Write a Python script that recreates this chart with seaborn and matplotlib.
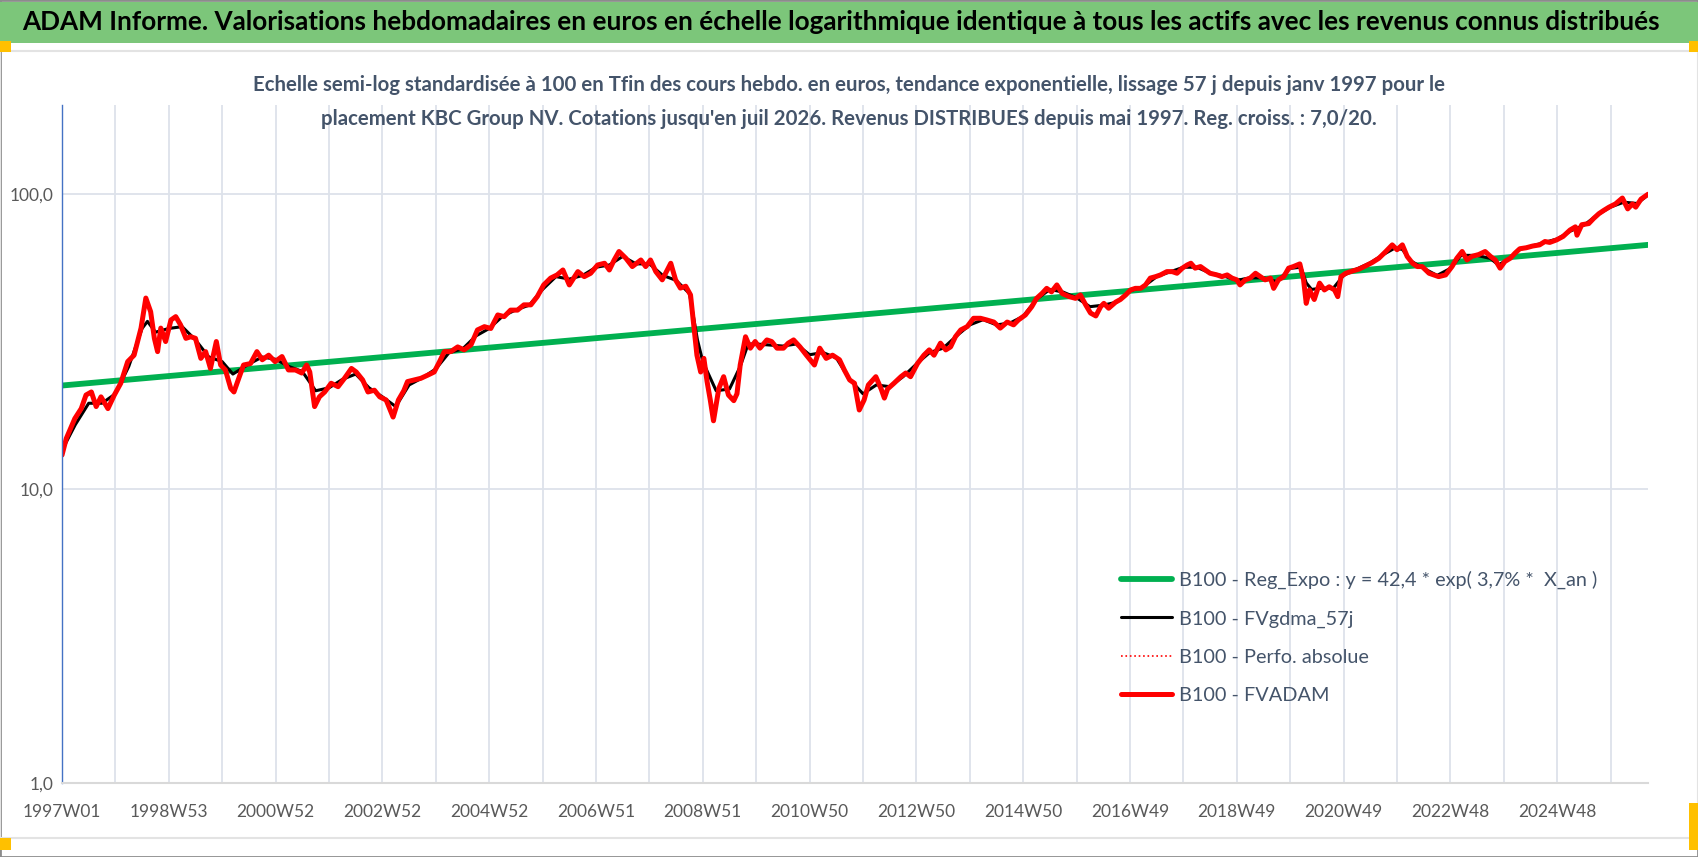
import seaborn as sns
from matplotlib import pyplot as plt
from matplotlib.patches import Rectangle

# B100 - FVADAM : weekly valuation (decimal year, value)
fvadam_years = [
    1997.00, 1997.08, 1997.16, 1997.24, 1997.36, 1997.45, 1997.55, 1997.64, 1997.73, 1997.86,
    1997.98, 1998.10, 1998.23, 1998.35, 1998.48, 1998.57, 1998.66, 1998.73, 1998.79, 1998.85,
    1998.94, 1999.04, 1999.13, 1999.22, 1999.32, 1999.41, 1999.50, 1999.60, 1999.69, 1999.78,
    1999.89, 1999.97, 2000.06, 2000.16, 2000.22, 2000.31, 2000.40, 2000.53, 2000.65, 2000.75,
    2000.87, 2000.99, 2001.12, 2001.24, 2001.37, 2001.49, 2001.58, 2001.64, 2001.73, 2001.82,
    2001.92, 2002.04, 2002.17, 2002.29, 2002.42, 2002.51, 2002.63, 2002.73, 2002.85, 2002.95,
    2003.07, 2003.20, 2003.30, 2003.40, 2003.47, 2003.60, 2003.72, 2003.85, 2003.97, 2004.07,
    2004.16, 2004.28, 2004.41, 2004.53, 2004.66, 2004.78, 2004.91, 2005.03, 2005.16, 2005.28,
    2005.40, 2005.53, 2005.65, 2005.78, 2005.90, 2006.02, 2006.15, 2006.27, 2006.38, 2006.50,
    2006.66, 2006.78, 2006.90, 2007.03, 2007.16, 2007.25, 2007.34, 2007.43, 2007.56, 2007.68,
    2007.84, 2007.93, 2008.02, 2008.12, 2008.24, 2008.40, 2008.49, 2008.58, 2008.68, 2008.77,
    2008.83, 2008.89, 2008.96, 2009.02, 2009.08, 2009.14, 2009.20, 2009.30, 2009.39, 2009.48,
    2009.58, 2009.64, 2009.70, 2009.80, 2009.89, 2009.98, 2010.07, 2010.20, 2010.29, 2010.39,
    2010.51, 2010.60, 2010.70, 2010.82, 2010.94, 2011.09, 2011.19, 2011.31, 2011.43, 2011.56,
    2011.65, 2011.75, 2011.84, 2011.93, 2012.02, 2012.10, 2012.24, 2012.34, 2012.40, 2012.46,
    2012.58, 2012.71, 2012.80, 2012.89, 2013.02, 2013.14, 2013.24, 2013.33, 2013.45, 2013.55,
    2013.64, 2013.73, 2013.83, 2013.95, 2014.07, 2014.20, 2014.32, 2014.45, 2014.57, 2014.70,
    2014.82, 2014.91, 2015.04, 2015.16, 2015.25, 2015.35, 2015.44, 2015.53, 2015.63, 2015.73,
    2015.86, 2015.98, 2016.07, 2016.17, 2016.26, 2016.36, 2016.45, 2016.51, 2016.60, 2016.73,
    2016.82, 2016.92, 2017.01, 2017.10, 2017.20, 2017.29, 2017.38, 2017.48, 2017.57, 2017.69,
    2017.79, 2017.88, 2017.98, 2018.07, 2018.14, 2018.22, 2018.32, 2018.41, 2018.50, 2018.63,
    2018.72, 2018.82, 2018.91, 2019.00, 2019.06, 2019.16, 2019.25, 2019.35, 2019.44, 2019.53,
    2019.63, 2019.69, 2019.78, 2019.88, 2019.97, 2020.06, 2020.18, 2020.25, 2020.30, 2020.36,
    2020.45, 2020.55, 2020.64, 2020.73, 2020.83, 2020.89, 2020.95, 2021.04, 2021.17, 2021.29,
    2021.42, 2021.54, 2021.66, 2021.79, 2021.91, 2022.00, 2022.10, 2022.19, 2022.29, 2022.38,
    2022.47, 2022.60, 2022.69, 2022.78, 2022.91, 2023.03, 2023.12, 2023.22, 2023.31, 2023.40,
    2023.53, 2023.65, 2023.75, 2023.84, 2023.93, 2024.02, 2024.12, 2024.21, 2024.30, 2024.42,
    2024.54, 2024.67, 2024.77, 2024.86, 2024.99, 2025.11, 2025.24, 2025.34, 2025.37, 2025.46,
    2025.59, 2025.68, 2025.78, 2025.87, 2025.97, 2026.09, 2026.22, 2026.32, 2026.41, 2026.47,
    2026.57, 2026.70,
]
fvadam_values = [
    13.0, 14.8, 16.0, 17.3, 18.7, 20.8, 21.3, 19.0, 20.5, 18.7,
    20.8, 22.8, 27.0, 28.4, 35.1, 44.4, 39.9, 32.4, 29.2, 35.1,
    31.6, 37.4, 38.4, 36.0, 32.4, 32.8, 32.4, 27.7, 29.2, 25.6,
    31.6, 26.3, 25.3, 21.9, 21.3, 23.7, 26.3, 26.6, 29.2, 27.4,
    28.4, 27.0, 28.1, 25.3, 25.3, 24.7, 26.3, 24.9, 19.0, 20.5,
    21.3, 22.8, 22.2, 23.7, 25.6, 24.9, 23.4, 21.3, 21.6, 20.5,
    20.0, 17.5, 20.0, 21.5, 23.1, 23.4, 23.7, 24.3, 24.9, 27.0,
    29.2, 29.2, 30.3, 29.6, 30.8, 34.6, 35.5, 35.0, 38.9, 38.4,
    40.4, 40.4, 42.1, 42.1, 44.9, 49.2, 51.9, 53.2, 55.3, 49.2,
    54.6, 52.5, 53.9, 57.5, 58.3, 55.3, 59.8, 63.9, 60.6, 56.8,
    59.8, 56.8, 59.8, 54.6, 51.2, 58.3, 51.2, 48.0, 48.7, 45.5,
    36.0, 28.4, 24.9, 27.7, 23.1, 20.0, 17.0, 21.9, 24.0, 20.8,
    19.9, 21.0, 26.3, 32.8, 30.0, 31.6, 30.0, 32.0, 31.6, 30.0,
    30.0, 31.2, 32.0, 30.3, 28.4, 26.3, 30.0, 27.7, 28.4, 27.4,
    25.3, 23.4, 22.8, 18.5, 20.0, 22.5, 24.0, 21.8, 20.3, 21.8,
    22.8, 24.0, 24.7, 24.0, 26.6, 28.4, 29.6, 28.4, 31.2, 29.6,
    30.3, 32.8, 34.6, 35.5, 37.9, 37.9, 37.4, 36.8, 35.1, 36.8,
    36.0, 37.4, 38.9, 41.5, 44.3, 46.0, 47.9, 46.6, 49.2, 46.0,
    44.9, 44.3, 45.5, 42.1, 39.5, 38.6, 41.5, 42.6, 41.0, 43.0,
    43.9, 45.5, 47.3, 47.9, 47.9, 49.2, 51.9, 52.5, 53.2, 54.6,
    54.6, 53.9, 56.1, 57.5, 58.3, 56.1, 56.8, 55.3, 53.9, 53.2,
    52.5, 53.2, 51.9, 51.2, 49.2, 51.2, 51.9, 53.9, 52.5, 51.2,
    51.9, 47.9, 51.2, 52.5, 56.1, 56.8, 58.0, 51.2, 42.6, 47.3,
    43.9, 49.9, 47.3, 48.5, 47.3, 44.9, 52.5, 53.9, 54.9, 55.7,
    57.2, 58.7, 60.6, 63.9, 67.3, 64.8, 67.3, 61.5, 58.3, 56.8,
    56.8, 53.9, 53.2, 52.5, 53.2, 56.8, 60.6, 63.9, 59.8, 61.5,
    62.4, 63.9, 61.5, 59.8, 56.1, 59.1, 60.6, 63.1, 65.3, 65.8,
    66.7, 67.3, 69.1, 68.6, 70.0, 71.9, 75.6, 77.5, 72.6, 78.8,
    79.5, 82.7, 85.9, 88.1, 90.4, 92.7, 97.1, 89.2, 92.7, 90.4,
    96.3, 100.0,
]

# B100 - FVgdma_57j : smoothed curve
gdma_years = [
    1997.00, 1997.25, 1997.50, 1997.75, 1998.00, 1998.25, 1998.50, 1998.60, 1998.75, 1999.00,
    1999.25, 1999.50, 1999.75, 2000.00, 2000.20, 2000.50, 2000.75, 2001.00, 2001.25, 2001.50,
    2001.75, 2002.00, 2002.25, 2002.50, 2002.75, 2003.00, 2003.25, 2003.50, 2003.75, 2004.00,
    2004.25, 2004.50, 2004.75, 2005.00, 2005.25, 2005.50, 2005.75, 2006.00, 2006.25, 2006.50,
    2006.75, 2007.00, 2007.25, 2007.50, 2007.75, 2008.00, 2008.25, 2008.50, 2008.75, 2008.90,
    2009.00, 2009.25, 2009.50, 2009.70, 2009.85, 2010.00, 2010.50, 2010.75, 2011.00, 2011.25,
    2011.50, 2011.75, 2012.00, 2012.25, 2012.50, 2012.75, 2013.00, 2013.25, 2013.50, 2013.75,
    2014.00, 2014.25, 2014.50, 2014.75, 2015.00, 2015.25, 2015.50, 2015.75, 2016.00, 2016.25,
    2016.50, 2016.75, 2017.00, 2017.25, 2017.50, 2017.75, 2018.00, 2018.25, 2018.50, 2018.75,
    2019.00, 2019.25, 2019.50, 2019.75, 2020.00, 2020.20, 2020.30, 2020.40, 2020.60, 2020.80,
    2021.00, 2021.25, 2021.50, 2021.75, 2021.95, 2022.10, 2022.25, 2022.50, 2022.75, 2023.00,
    2023.20, 2023.50, 2023.75, 2023.90, 2024.10, 2024.30, 2024.50, 2024.75, 2025.00, 2025.25,
    2025.50, 2025.75, 2026.00, 2026.25, 2026.50, 2026.70,
]
gdma_values = [
    13.5, 16.5, 19.5, 19.5, 21.0, 26.0, 35.0, 37.0, 34.0, 35.0,
    35.5, 32.0, 28.0, 27.0, 24.5, 26.5, 28.0, 27.5, 26.0, 25.0,
    21.5, 22.0, 23.5, 24.5, 22.0, 20.5, 19.0, 22.5, 23.8, 25.5,
    29.0, 29.8, 33.0, 35.0, 38.5, 40.5, 42.0, 47.5, 52.5, 51.5,
    53.0, 56.5, 57.5, 61.5, 58.0, 58.0, 53.0, 51.0, 46.0, 32.0,
    27.0, 21.5, 21.8, 26.0, 31.0, 31.0, 30.5, 31.0, 28.5, 29.0,
    27.8, 23.5, 21.0, 22.5, 22.2, 24.0, 26.5, 29.0, 30.0, 33.0,
    36.0, 37.5, 36.0, 36.5, 38.5, 44.0, 47.5, 46.5, 44.5, 41.5,
    42.0, 43.0, 47.0, 48.5, 52.5, 54.5, 56.5, 56.5, 54.0, 52.8,
    51.0, 52.0, 52.0, 50.5, 56.0, 56.5, 50.0, 47.5, 48.0, 47.8,
    53.0, 55.8, 58.5, 62.5, 65.5, 65.0, 59.5, 56.0, 53.0, 56.0,
    62.0, 62.0, 60.5, 57.5, 60.5, 65.0, 66.5, 68.5, 70.5, 75.0,
    78.5, 85.0, 90.5, 94.0, 93.0, 99.5,
]

# B100 - Reg_Expo : straight line on the log scale, endpoints
reg_years = [1997.0, 2026.7]
reg_values = [22.4, 67.3]

x_tick_labels = ["1997W01", "1998W53", "2000W52", "2002W52", "2004W52", "2006W51",
                 "2008W51", "2010W50", "2012W50", "2014W50", "2016W49", "2018W49",
                 "2020W49", "2022W48", "2024W48"]
y_ticks = [1, 10, 100]
y_tick_labels = ["1,0", "10,0", "100,0"]

title = ("ADAM Informe. Valorisations hebdomadaires en euros en échelle logarithmique "
         "identique à tous les actifs avec les revenus connus distribués")
subtitle = ("Echelle semi-log standardisée à 100 en Tfin des cours hebdo. en euros, tendance "
            "exponentielle, lissage 57 j depuis janv 1997 pour le\nplacement KBC Group NV. "
            "Cotations jusqu'en juil 2026. Revenus DISTRIBUES depuis mai 1997. Reg. croiss. : 7,0/20.")


def to_weeks(years):
    # one grid step of the category axis = 52 weekly points
    return [(y - 1997.0) * 52 for y in years]


sns.set_style("white")
plt.rcParams["font.family"] = ["Lato", "DejaVu Sans"]

W, H = 1698, 857
fig = plt.figure(figsize=(W / 100, H / 100), dpi=100)
ax = fig.add_axes([62 / W, 1 - 783 / H, (1648 - 62) / W, (783 - 105) / H])

sns.lineplot(x=to_weeks(reg_years), y=reg_values, ax=ax, color="#00B050", lw=4.2,
             label="B100 - Reg_Expo : y = 42,4 * exp( 3,7% *  X_an )", sort=False)
sns.lineplot(x=to_weeks(gdma_years), y=gdma_values, ax=ax, color="black", lw=2.2,
             label="B100 - FVgdma_57j", sort=False)
sns.lineplot(x=to_weeks(fvadam_years), y=fvadam_values, ax=ax, color="red", lw=1.2,
             linestyle=":", label="B100 - Perfo. absolue", sort=False)
sns.lineplot(x=to_weeks(fvadam_years), y=fvadam_values, ax=ax, color="#FF0000", lw=3.6,
             label="B100 - FVADAM", sort=False)

ax.set_yscale("log")
ax.set_ylim(1, 201)
ax.set_yticks(y_ticks)
ax.set_yticklabels(y_tick_labels)
ax.minorticks_off()
ax.set_xlim(0, max(to_weeks(fvadam_years)))
grid_pos = list(range(0, 1520, 52))
ax.set_xticks(grid_pos)
ax.set_xticklabels([x_tick_labels[i // 2] if i % 2 == 0 else "" for i in range(len(grid_pos))])
ax.tick_params(axis="x", length=7, color="#D9D9D9", labelsize=12.5, labelcolor="#595959", pad=8)
ax.tick_params(axis="y", length=0, labelsize=12.5, labelcolor="#595959", pad=6)
ax.grid(True, axis="both", color="#DDE2EA", lw=1.3)
ax.set_axisbelow(True)
ax.set_xlabel("")
ax.set_ylabel("")
for side in ["top", "right"]:
    ax.spines[side].set_visible(False)
ax.spines["bottom"].set_color("#D9D9D9")
ax.spines["bottom"].set_linewidth(1.5)
ax.spines["left"].set_color("#4472C4")
ax.spines["left"].set_linewidth(1.0)

leg = ax.legend(loc="upper left", bbox_to_anchor=(1103 / W, 1 - 553 / H),
                bbox_transform=fig.transFigure, frameon=False, fontsize=14.3,
                handlelength=2.55, labelspacing=1.06, handletextpad=0.4)
for t in leg.get_texts():
    t.set_color("#44546A")

# chart frame, title band and selection handles
fig.patches.append(Rectangle((0, 0), 1, 1, transform=fig.transFigure, fill=False,
                             edgecolor="#8C8C8C", lw=2))
fig.patches.append(Rectangle((0, 1 - 43 / H), 1, 41 / H, transform=fig.transFigure,
                             facecolor="#7CC67A", edgecolor="none"))
fig.patches.append(Rectangle((0, 1 - 838 / H), 1, (838 - 51) / H, transform=fig.transFigure,
                             fill=False, edgecolor="#E3E3E3", lw=1.5))
for (px, py, pw, ph) in [(0, 41, 11, 11), (0, 838, 11, 12), (1689, 41, 9, 11), (1689, 803, 9, 47)]:
    fig.patches.append(Rectangle((px / W, 1 - (py + ph) / H), pw / W, ph / H,
                                 transform=fig.transFigure, facecolor="#FFC000",
                                 edgecolor="none"))

fig.text(22 / W, 1 - 22 / H, title, ha="left", va="center", fontsize=18.85,
         fontweight="bold", color="black")
fig.text(0.5, 1 - 102 / H, subtitle, ha="center", va="center", fontsize=14.7,
         fontweight="bold", color="#44546A", linespacing=1.85)

fig.savefig("out.png", dpi=100)
